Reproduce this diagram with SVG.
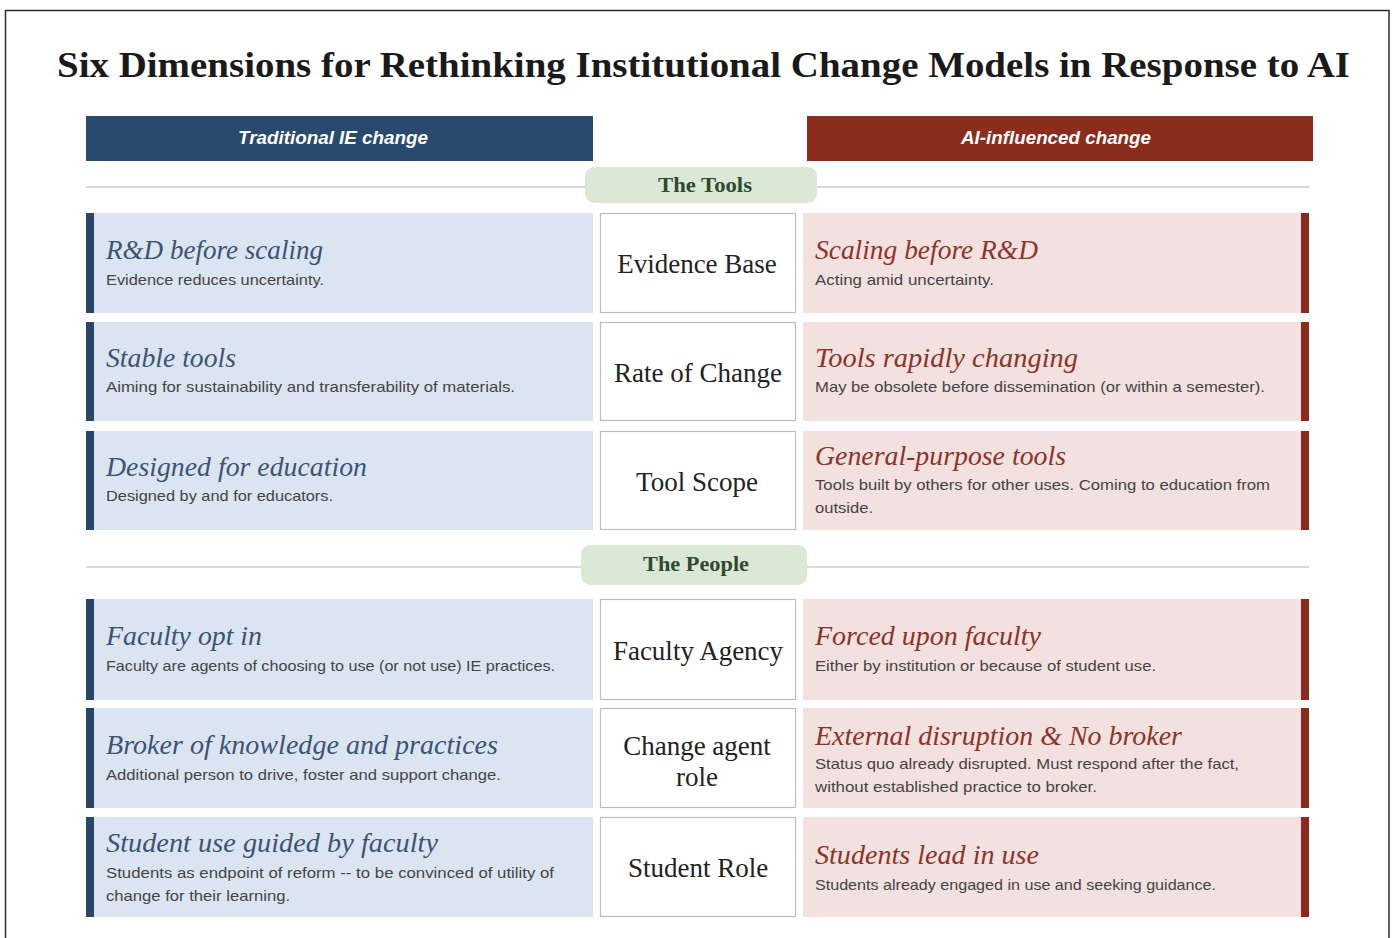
<svg xmlns="http://www.w3.org/2000/svg" width="1394" height="938" viewBox="0 0 1394 938">
<style>
.bg{fill:#ffffff}
.frame{fill:none;stroke:#2b2b2b;stroke-width:1.5}
.title{font-family:"Liberation Serif",serif;font-weight:bold;font-size:36px;fill:#1a1a1a}
.hdr-l{fill:#2a4a6d}
.hdr-r{fill:#8a2d1d}
.hdr-t{font-family:"Liberation Sans",sans-serif;font-weight:bold;font-style:italic;font-size:18px;fill:#ffffff;text-anchor:middle}
.sep{stroke:#cccccc;stroke-width:1.6}
.pill{fill:#dce8d6}
.pill-t{font-family:"Liberation Serif",serif;font-weight:bold;font-size:20px;fill:#2f4a2e;text-anchor:middle}
.lcell{fill:#dbe5f2}
.lbar{fill:#2a4667}
.rcell{fill:#f3e1df}
.rbar{fill:#8a2a1c}
.mcell{fill:#ffffff;stroke:#bdbdbd;stroke-width:1.2}
.mt{font-family:"Liberation Serif",serif;font-size:27px;fill:#222222;text-anchor:middle}
.lt{font-family:"Liberation Serif",serif;font-style:italic;font-size:27px;fill:#3b5476}
.rt{font-family:"Liberation Serif",serif;font-style:italic;font-size:27px;fill:#8b3429}
.st{font-family:"Liberation Sans",sans-serif;font-size:15px;fill:#444444}
</style>
<rect class="bg" x="0" y="0" width="1394" height="938"/>
<rect class="frame" x="5.5" y="10.5" width="1383.5" height="940"/>
<text class="title" x="57" y="77" textLength="1293" lengthAdjust="spacingAndGlyphs">Six Dimensions for Rethinking Institutional Change Models in Response to AI</text>

<g id="header-left">
<rect class="hdr-l" x="86" y="116" width="507" height="45"/>
<text class="hdr-t" x="333" y="144" textLength="190" lengthAdjust="spacingAndGlyphs">Traditional IE change</text>
</g>
<g id="header-right">
<rect class="hdr-r" x="807" y="116" width="506" height="45"/>
<text class="hdr-t" x="1056" y="144" textLength="190" lengthAdjust="spacingAndGlyphs">AI-influenced change</text>
</g>

<g id="connectors">
<line class="sep" x1="86" y1="187" x2="1309" y2="187"/>
<line class="sep" x1="86" y1="567" x2="1309" y2="567"/>
</g>

<g id="section-tools">
<rect class="pill" x="585" y="167" width="232" height="36" rx="9"/>
<text class="pill-t" x="705" y="192" textLength="94" lengthAdjust="spacingAndGlyphs">The Tools</text>
</g>
<g id="section-people">
<rect class="pill" x="581" y="545" width="226" height="40" rx="9"/>
<text class="pill-t" x="696" y="571" textLength="106" lengthAdjust="spacingAndGlyphs">The People</text>
</g>

<!-- Row 1 -->
<g id="row1-left">
<rect class="lcell" x="86" y="213" width="507" height="100"/>
<rect class="lbar" x="86" y="213" width="8" height="100"/>
<text class="lt" x="106" y="259" textLength="217" lengthAdjust="spacingAndGlyphs">R&amp;D before scaling</text>
<text class="st" x="106" y="285" textLength="218" lengthAdjust="spacingAndGlyphs">Evidence reduces uncertainty.</text>
</g>
<g id="row1-mid">
<rect class="mcell" x="600.5" y="213.5" width="195" height="99"/>
<text class="mt" x="697" y="273">Evidence Base</text>
</g>
<g id="row1-right">
<rect class="rcell" x="803" y="213" width="506" height="100"/>
<rect class="rbar" x="1301" y="213" width="8" height="100"/>
<text class="rt" x="815" y="259" textLength="223" lengthAdjust="spacingAndGlyphs">Scaling before R&amp;D</text>
<text class="st" x="815" y="285" textLength="179" lengthAdjust="spacingAndGlyphs">Acting amid uncertainty.</text>
</g>

<!-- Row 2 -->
<g id="row2-left">
<rect class="lcell" x="86" y="322" width="507" height="99"/>
<rect class="lbar" x="86" y="322" width="8" height="99"/>
<text class="lt" x="106" y="367" textLength="130" lengthAdjust="spacingAndGlyphs">Stable tools</text>
<text class="st" x="106" y="392" textLength="409" lengthAdjust="spacingAndGlyphs">Aiming for sustainability and transferability of materials.</text>
</g>
<g id="row2-mid">
<rect class="mcell" x="600.5" y="322.5" width="195" height="98"/>
<text class="mt" x="698" y="382">Rate of Change</text>
</g>
<g id="row2-right">
<rect class="rcell" x="803" y="322" width="506" height="99"/>
<rect class="rbar" x="1301" y="322" width="8" height="99"/>
<text class="rt" x="815" y="367" textLength="263" lengthAdjust="spacingAndGlyphs">Tools rapidly changing</text>
<text class="st" x="815" y="392" textLength="450" lengthAdjust="spacingAndGlyphs">May be obsolete before dissemination (or within a semester).</text>
</g>

<!-- Row 3 -->
<g id="row3-left">
<rect class="lcell" x="86" y="431" width="507" height="99"/>
<rect class="lbar" x="86" y="431" width="8" height="99"/>
<text class="lt" x="106" y="476" textLength="261" lengthAdjust="spacingAndGlyphs">Designed for education</text>
<text class="st" x="106" y="501" textLength="227" lengthAdjust="spacingAndGlyphs">Designed by and for educators.</text>
</g>
<g id="row3-mid">
<rect class="mcell" x="600.5" y="431.5" width="195" height="98"/>
<text class="mt" x="697" y="491">Tool Scope</text>
</g>
<g id="row3-right">
<rect class="rcell" x="803" y="431" width="506" height="99"/>
<rect class="rbar" x="1301" y="431" width="8" height="99"/>
<text class="rt" x="815" y="465" textLength="251" lengthAdjust="spacingAndGlyphs">General-purpose tools</text>
<text class="st" x="815" y="490" textLength="455" lengthAdjust="spacingAndGlyphs">Tools built by others for other uses. Coming to education from</text>
<text class="st" x="815" y="513" textLength="58" lengthAdjust="spacingAndGlyphs">outside.</text>
</g>

<!-- Row 4 -->
<g id="row4-left">
<rect class="lcell" x="86" y="599" width="507" height="101"/>
<rect class="lbar" x="86" y="599" width="8" height="101"/>
<text class="lt" x="106" y="645" textLength="156" lengthAdjust="spacingAndGlyphs">Faculty opt in</text>
<text class="st" x="106" y="671" textLength="449" lengthAdjust="spacingAndGlyphs">Faculty are agents of choosing to use (or not use) IE practices.</text>
</g>
<g id="row4-mid">
<rect class="mcell" x="600.5" y="599.5" width="195" height="100"/>
<text class="mt" x="698" y="660">Faculty Agency</text>
</g>
<g id="row4-right">
<rect class="rcell" x="803" y="599" width="506" height="101"/>
<rect class="rbar" x="1301" y="599" width="8" height="101"/>
<text class="rt" x="815" y="645" textLength="226" lengthAdjust="spacingAndGlyphs">Forced upon faculty</text>
<text class="st" x="815" y="671" textLength="341" lengthAdjust="spacingAndGlyphs">Either by institution or because of student use.</text>
</g>

<!-- Row 5 -->
<g id="row5-left">
<rect class="lcell" x="86" y="708" width="507" height="100"/>
<rect class="lbar" x="86" y="708" width="8" height="100"/>
<text class="lt" x="106" y="754" textLength="392" lengthAdjust="spacingAndGlyphs">Broker of knowledge and practices</text>
<text class="st" x="106" y="780" textLength="395" lengthAdjust="spacingAndGlyphs">Additional person to drive, foster and support change.</text>
</g>
<g id="row5-mid">
<rect class="mcell" x="600.5" y="708.5" width="195" height="99"/>
<text class="mt" x="697" y="755">Change agent</text>
<text class="mt" x="697" y="786">role</text>
</g>
<g id="row5-right">
<rect class="rcell" x="803" y="708" width="506" height="100"/>
<rect class="rbar" x="1301" y="708" width="8" height="100"/>
<text class="rt" x="815" y="745" textLength="367" lengthAdjust="spacingAndGlyphs">External disruption &amp; No broker</text>
<text class="st" x="815" y="769" textLength="424" lengthAdjust="spacingAndGlyphs">Status quo already disrupted. Must respond after the fact,</text>
<text class="st" x="815" y="792" textLength="282" lengthAdjust="spacingAndGlyphs">without established practice to broker.</text>
</g>

<!-- Row 6 -->
<g id="row6-left">
<rect class="lcell" x="86" y="817" width="507" height="100"/>
<rect class="lbar" x="86" y="817" width="8" height="100"/>
<text class="lt" x="106" y="852" textLength="332" lengthAdjust="spacingAndGlyphs">Student use guided by faculty</text>
<text class="st" x="106" y="878" textLength="448" lengthAdjust="spacingAndGlyphs">Students as endpoint of reform -- to be convinced of utility of</text>
<text class="st" x="106" y="901" textLength="184" lengthAdjust="spacingAndGlyphs">change for their learning.</text>
</g>
<g id="row6-mid">
<rect class="mcell" x="600.5" y="817.5" width="195" height="99"/>
<text class="mt" x="698" y="877">Student Role</text>
</g>
<g id="row6-right">
<rect class="rcell" x="803" y="817" width="506" height="100"/>
<rect class="rbar" x="1301" y="817" width="8" height="100"/>
<text class="rt" x="815" y="864" textLength="224" lengthAdjust="spacingAndGlyphs">Students lead in use</text>
<text class="st" x="815" y="890" textLength="401" lengthAdjust="spacingAndGlyphs">Students already engaged in use and seeking guidance.</text>
</g>
</svg>
